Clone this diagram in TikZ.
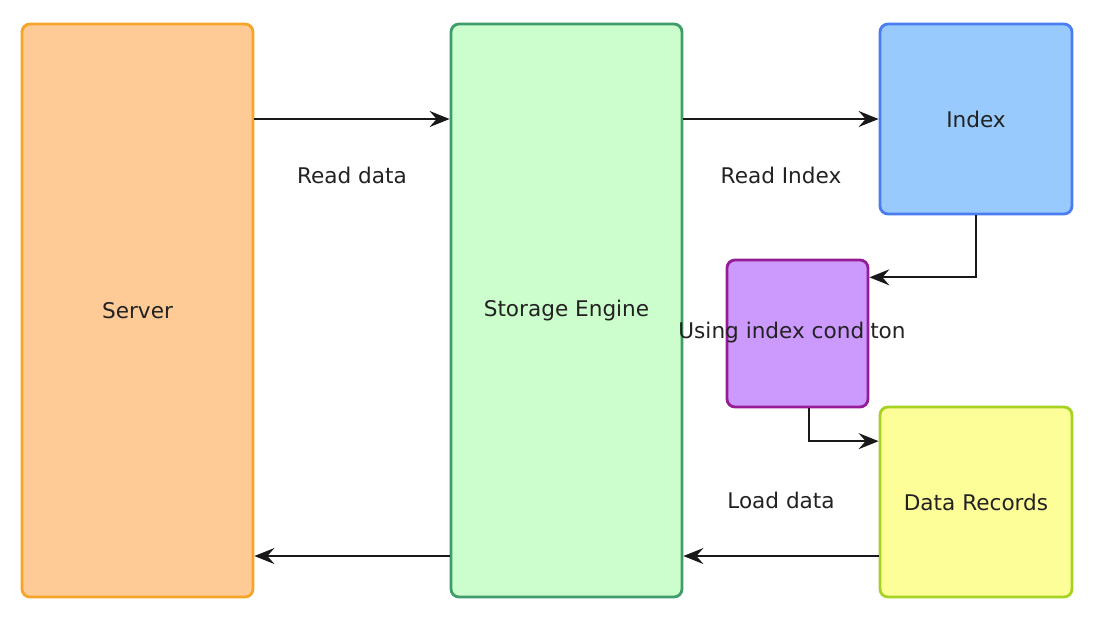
\documentclass[tikz,border=0pt]{standalone}
\usepackage{fontspec}
\setmainfont{DejaVu Sans}
\usepackage{xcolor}
\usepackage{tikz}
\usetikzlibrary{arrows.meta,positioning,calc}

\definecolor{srvfill}{HTML}{FECB96}
\definecolor{srvline}{HTML}{F7A529}
\definecolor{engfill}{HTML}{CCFDCC}
\definecolor{engline}{HTML}{3F9D6B}
\definecolor{idxfill}{HTML}{99CAFD}
\definecolor{idxline}{HTML}{4A7DF2}
\definecolor{cndfill}{HTML}{CC99FD}
\definecolor{cndline}{HTML}{961C96}
\definecolor{recfill}{HTML}{FEFE99}
\definecolor{recline}{HTML}{A6D322}
\definecolor{txt}{HTML}{222222}

\begin{document}
\begin{tikzpicture}[x=0.5pt, y=-0.5pt,
  box/.style={draw, rounded corners=4pt, line width=1.4pt, inner sep=0pt,
    font=\fontsize{10.8}{13}\selectfont, text=txt},
  lbl/.style={font=\fontsize{10.8}{13}\selectfont, text=txt, inner sep=0pt},
  arr/.style={-{Stealth[length=10pt, width=8pt, inset=3.5pt]}, line width=0.9pt, black!90}]
\useasboundingbox (0,0) rectangle (1107,629);
\node[box, fill=srvfill, draw=srvline, minimum width=115.5pt, minimum height=286.5pt] (server) at (137.5,310.5) {Server};
\node[box, fill=engfill, draw=engline, minimum width=115.5pt, minimum height=286.5pt] (engine) at (566.5,310.5) {Storage Engine};
\node[box, fill=idxfill, draw=idxline, minimum width=96pt, minimum height=95pt] (index) at (976,119) {Index};
\node[box, fill=cndfill, draw=cndline, minimum width=70.5pt, minimum height=73.5pt] (cond) at (797.5,333.5) {};
\node[lbl] (condtext) at (792,333) {Using index cond\phantom{i}ton};
\node[box, fill=recfill, draw=recline, minimum width=96pt, minimum height=95pt] (records) at (976,502) {Data Records};
\coordinate (low) at (0,556);
% requests
\draw[arr] (server.east |- index.west) -- node[lbl, yshift=-28pt] {Read data} (engine.west |- index.west);
\draw[arr] (engine.east |- index.west) -- node[lbl, yshift=-28pt] {Read Index} (index.west);
\draw[arr] (index.south) |- (cond.38);
\draw[arr] (cond.-81) |- (records.148);
% results
\draw[arr] (records.west |- low) -- node[lbl, yshift=28pt] {Load data} (engine.east |- low);
\draw[arr] (engine.west |- low) -- (server.east |- low);
\end{tikzpicture}
\end{document}
